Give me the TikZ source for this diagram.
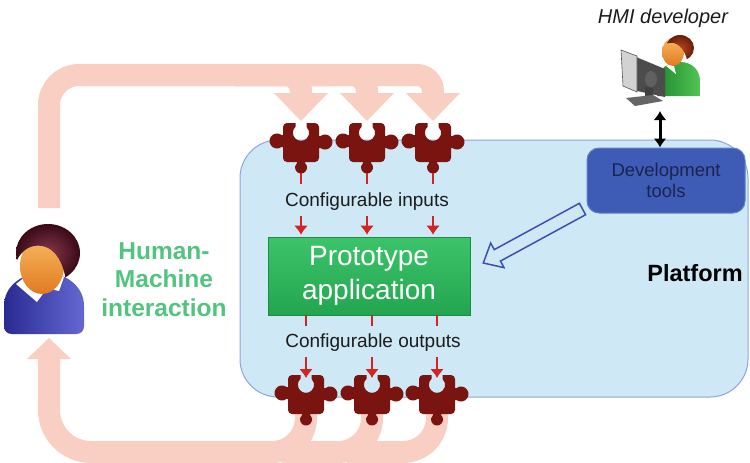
\documentclass[tikz,border=0pt]{standalone}
\usepackage{fontspec}
\setmainfont{Liberation Sans}
\usetikzlibrary{arrows.meta,calc}

\definecolor{loopc}{HTML}{F9CFC3}
\definecolor{platfill}{HTML}{CEE8F5}
\definecolor{platline}{HTML}{8FA5DE}
\definecolor{piececol}{HTML}{7A1411}
\definecolor{redc}{HTML}{D42323}
\definecolor{protoTop}{HTML}{3CC46A}
\definecolor{protoBot}{HTML}{23A54F}
\definecolor{toolblue}{HTML}{3E5BB6}
\definecolor{toolline}{HTML}{6480CE}
\definecolor{tooltext}{HTML}{1B2450}
\definecolor{hmigreen}{HTML}{52C47F}
\definecolor{textdark}{HTML}{1C1C1C}
\definecolor{arrowblue}{HTML}{3E4FB4}
\definecolor{skinL}{HTML}{F7B85E}
\definecolor{skinD}{HTML}{E17A22}
\definecolor{hairIn}{HTML}{86384C}
\definecolor{hairOut}{HTML}{3A0A17}
\definecolor{suitL}{HTML}{6468D2}
\definecolor{suitD}{HTML}{2A2B92}
\definecolor{redhairIn}{HTML}{B4461F}
\definecolor{redhairOut}{HTML}{6A1E0A}
\definecolor{shirtL}{HTML}{52C455}
\definecolor{shirtD}{HTML}{1D8A2D}

\tikzset{
  puzzle/.pic={
    \fill[piececol] (-18,-15) arc[start angle=180,end angle=270,radius=4]
      -- (-5.5,-19) -- (-5.5,-15.2) arc[start angle=227.2,end angle=-47.2,radius=8.1]
      -- (5.5,-19) -- (14,-19) arc[start angle=270,end angle=360,radius=4]
      -- (18,-6) -- (19.5,-6) arc[start angle=233.13,end angle=486.87,radius=7.5]
      -- (18,6) -- (18,16) arc[start angle=0,end angle=90,radius=4]
      -- (4,20) -- (4,21.03) arc[start angle=-48.2,end angle=228.2,radius=6]
      -- (-4,20) -- (-14,20) arc[start angle=90,end angle=180,radius=4]
      -- (-18,5) -- (-19.5,5) arc[start angle=53.13,end angle=306.87,radius=7.5]
      -- (-18,-7) -- cycle;
  },
  band/.style={draw=loopc, line width=22pt},
  stub/.style={draw=redc, line width=2.6pt},
  redarr/.style={draw=redc, line width=2.6pt, -{Latex[length=9pt,width=14pt]}},
  lbl/.style={font=\fontsize{19}{22}\selectfont, text=textdark, inner sep=0pt},
  platform/.style={draw=platline, line width=1pt, fill=platfill, rounded corners=38pt,
    minimum width=508pt, minimum height=257pt, inner sep=0pt},
  protobox/.style={top color=protoTop, bottom color=protoBot, draw=protoBot!85!black,
    line width=0.6pt, minimum width=202pt, minimum height=78pt, inner sep=0pt,
    text=white, align=center, font=\fontsize{28}{34}\selectfont},
  toolbox/.style={fill=toolblue, draw=toolline, line width=1pt, rounded corners=12pt,
    minimum width=158pt, minimum height=65pt, inner sep=0pt, text=tooltext,
    align=center, font=\fontsize{18.5}{21}\selectfont},
}

\begin{document}
\begin{tikzpicture}[x=1pt,y=-1pt]
\useasboundingbox (0,0) rectangle (750,463);
\fill[white] (0,0) rectangle (750,463);

% platform area
\node[platform] (platform) at (494,268.5) {};

% anchor points
\foreach \n/\x in {1/301,2/367,3/433} { \coordinate (in\n) at (\x,142); }
\foreach \n/\x in {1/306,2/372,3/437} { \coordinate (out\n) at (\x,394); }
\coordinate (userTop) at (49,208);
\coordinate (userBot) at (49,359);

% feedback loop: user to configurable inputs
\draw[band, rounded corners=30pt] (userTop) -- (userTop |- 0,75) -- (330,75);
\foreach \n in {1,2,3} {
  \draw[band, rounded corners=16pt] ($(in1)+(-66,-67)$) -- ($(in\n)+(0,-67)$) -- ($(in\n)+(0,-48)$);
  \fill[loopc] ($(in\n)+(-27,-49)$) -- ($(in\n)+(27,-49)$) -- ($(in\n)+(0,-21)$) -- cycle;
}

% feedback loop: configurable outputs back to user
\draw[band, rounded corners=42pt] (userBot) -- (userBot |- 0,452) -- (270,452);
\foreach \n in {1,2,3} {
  \draw[band, rounded corners=34pt] ($(out\n)+(0,18)$) -- ($(out\n)+(0,58)$) -- ($(out\n)+(-90,58)$);
}
\fill[loopc] ($(userBot)+(-22,0)$) -- ($(userBot)+(22,0)$) -- ($(userBot)+(0,-21)$) -- cycle;

% puzzle pieces
\foreach \n in {1,2,3} {
  \pic at (in\n) {puzzle};
  \pic at (out\n) {puzzle};
}

% prototype application
\node[protobox] (proto) at (369,276) {Prototype\\application};

% labels
\node[lbl] (inlbl) at (367,202) {Configurable inputs};
\node[lbl] (outlbl) at (373,343) {Configurable outputs};
\node[font=\bfseries\fontsize{23.5}{28}\selectfont, text=black, inner sep=0pt] (plat) at (695,273.5) {Platform};
\node[font=\bfseries\fontsize{24.5}{28.5}\selectfont, text=hmigreen, align=center, inner sep=0pt]
  (hmi) at (164,279.5) {Human-\\Machine\\interaction};

% red input / output arrows
\foreach \n in {1,2,3} {
  \draw[stub] ($(in\n)+(0,31)$) -- ($(in\n)+(0,42)$);
  \draw[redarr] ($(in\n)+(0,74)$) -- ($(in\n |- proto.north)+(0,-2)$);
  \draw[stub] (out\n |- proto.south) -- ($(out\n |- proto.south)+(0,11)$);
  \draw[redarr] ($(out\n)+(0,-37)$) -- ($(out\n)+(0,-16)$);
}

% development tools
\node[toolbox] (tools) at (666,180.5) {Development\\tools};

% hollow arrow from the tools to the application
\coordinate (hs) at (582.5,209);
\coordinate (ht) at ($(proto.east)+(13,-13)$);
\coordinate (hb) at ($(ht)!16pt!(hs)$);
\coordinate (hl) at ($(hb)!14pt!90:(hs)$);
\coordinate (hr) at ($(hb)!14pt!-90:(hs)$);
\coordinate (sl) at ($(hb)!6.5pt!90:(hs)$);
\coordinate (sr) at ($(hb)!6.5pt!-90:(hs)$);
\coordinate (tl) at ($(hs)!6.5pt!-90:(hb)$);
\coordinate (tr) at ($(hs)!6.5pt!90:(hb)$);
\draw[arrowblue, line width=1.5pt, fill=platfill, line join=miter]
  (ht) -- (hl) -- (sl) -- (tl) -- (tr) -- (sr) -- (hr) -- cycle;

% HMI developer
\node[font=\itshape\fontsize{20}{24}\selectfont, text=textdark, inner sep=0pt] (hmidev) at (663,18) {HMI developer};
\coordinate (dev) at (660,111);
\draw[line width=3pt, {Latex[length=9pt,width=13pt]}-{Latex[length=9pt,width=13pt]}]
  (dev) -- (dev |- tools.north);

% developer figure
\shade[left color=shirtD, right color=shirtL] (657,96) -- (657,81)
  .. controls (658,68) and (669,62) .. (680,62) .. controls (692,62) and (700,70) .. (700,81)
  -- (700,96) -- cycle;
\fill[white] (666,66) -- (673,62) -- (676,74) -- cycle;
\shade[top color=skinL, bottom color=skinD] (673,52) ellipse [x radius=11, y radius=14];
\begin{scope}
  \clip (655,28) -- (705,28) -- (705,70) -- (689,70) .. controls (687,55) and (683,46) .. (674,43)
    .. controls (669,42) and (664,44) .. (661,47) -- cycle;
  \shade[inner color=redhairIn, outer color=redhairOut] (680,48) ellipse [x radius=14, y radius=13];
\end{scope}
% monitor
\fill[gray!60!black] (636,57) -- (665,69) -- (665,97) -- (637,91) -- cycle;
\fill[gray!75!black] (651,79) ellipse [x radius=6, y radius=8];
\fill[gray!50!black] (645,87) -- (653,88) -- (653,98) -- (645,97) -- cycle;
\fill[gray!35] (621,50) -- (637,56) -- (637,92) -- (623,86) -- cycle;
\draw[gray!70!black, line width=0.6pt] (621,50) -- (637,56) -- (637,92) -- (623,86) -- cycle;
\fill[black!60] (626,98) -- (653,95) -- (663,101) -- (635,106) -- cycle;

% user figure
\shade[left color=suitD, right color=suitL] (4,326) -- (4,306)
  .. controls (4,286) and (22,273) .. (44,272) .. controls (66,273) and (84,286) .. (84,306)
  -- (84,326) .. controls (84,331) and (81,334) .. (76,334) -- (12,334)
  .. controls (7,334) and (4,331) .. (4,326) -- cycle;
\fill[white] (16,284) -- (30,273) -- (45,291) -- (37,302) -- cycle;
\fill[white] (51,289) -- (56,273) -- (64,277) -- (59,291) -- cycle;
\shade[top color=skinL, bottom color=skinD] (42,266) ellipse [x radius=22, y radius=28];
\begin{scope}
  \clip (8,212) -- (92,212) -- (92,292) -- (67,292) .. controls (66,268) and (58,249) .. (42,246)
    .. controls (31,244) and (22,250) .. (17,260) -- (10,280) -- cycle;
  \shade[inner color=hairIn, outer color=hairOut] (48,253) ellipse [x radius=32, y radius=29];
\end{scope}
\end{tikzpicture}
\end{document}
